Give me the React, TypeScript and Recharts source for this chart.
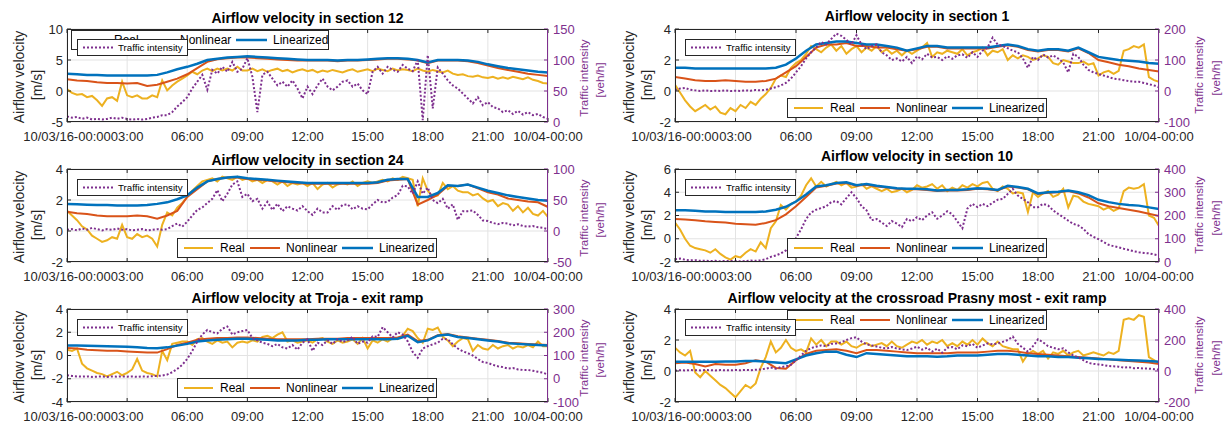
import React from 'react';
import { LineChart, Line, XAxis, YAxis, CartesianGrid } from 'recharts';

const FONT = '"Liberation Sans", Arial, Helvetica, sans-serif';
const C_REAL = '#EDB120';
const C_NON = '#D95319';
const C_LIN = '#0072BD';
const C_TRAF = '#7E2F8E';
const C_AX = '#262626';
const C_GRID = '#e3e3e3';
const TICK_FS = 13;

// sample times (hours since 10/03/16 00:00)
const fineHours = Array.from({ length: 97 }, (_, i) => i * 0.25);
const coarseHours = Array.from({ length: 49 }, (_, i) => i * 0.5);

const xTicks = [0, 3, 6, 9, 12, 15, 18, 21, 24];
const xTickLabels = ['10/03/16-00:00', '03:00', '06:00', '09:00', '12:00', '15:00', '18:00', '21:00', '10/04-00:00'];
const seriesNames = ['Real', 'Nonlinear', 'Linearized'];
const trafficName = 'Traffic intensity';

// ---------- Section 12 ----------
const s12Real = [
  0.3, -0.3, -0.6, -0.5, -1.0, -0.8, -1.5, -2.4, -1.2, -1.0, -1.6, 1.5,
  -0.7, -1.0, -0.7, -1.2, -1.2, -0.7, -1.0, 1.7, 0.1, 0.9, 1.5, 2.0,
  2.5, 3.1, 2.7, 3.3, 3.6, 3.2, 3.6, 3.3, 3.6, 3.3, 3.9, 3.3,
  3.3, 3.6, 3.2, 3.5, 3.1, 3.4, 3.6, 3.2, 3.4, 3.0, 3.3, 3.5,
  3.2, 3.4, 3.0, 3.3, 3.1, 3.4, 3.2, 3.0, 3.3, 3.5, 3.1, 3.3,
  3.5, 3.2, 3.6, 3.4, 3.2, 3.6, 3.3, 3.5, 3.4, 3.2, 3.6, 3.3,
  3.1, 3.4, 3.2, 3.0, 3.3, 2.8, 2.6, 2.7, 2.4, 2.3, 2.5, 2.2,
  2.1, 2.3, 2.0, 2.2, 2.0, 2.3, 2.1, 1.9, 2.2, 1.8, 1.6, 1.3,
  1.2,
];
const s12Non = [
  1.9, 1.7, 1.6, 1.4, 1.3, 1.3, 1.2, 1.3, 0.8, 1.0, 1.5, 2.0, 2.7, 3.7, 4.7, 5.1, 5.3, 5.4, 5.4, 5.3,
  5.2, 5.1, 5.0, 4.9, 4.9, 4.9, 4.9, 4.8, 4.9, 4.9, 5.0, 5.1, 5.2, 5.2, 5.1, 4.9, 4.5, 4.9, 4.9, 4.9,
  4.8, 4.5, 4.1, 3.7, 3.4, 3.1, 2.8, 2.6, 2.4,
];
const s12Lin = [
  2.8, 2.7, 2.6, 2.6, 2.5, 2.5, 2.5, 2.5, 2.5, 2.6, 3.0, 3.5, 3.9, 4.4, 5.0, 5.2, 5.4, 5.5, 5.6, 5.5,
  5.4, 5.3, 5.2, 5.1, 5.0, 5.0, 5.0, 4.9, 5.0, 5.0, 5.1, 5.2, 5.3, 5.3, 5.2, 5.0, 4.6, 5.0, 5.0, 5.0,
  4.9, 4.7, 4.3, 4.0, 3.7, 3.5, 3.3, 3.1, 3.0,
];
const s12Traffic = [
  9, 7, 8, 5, 7, 4, 5, 4, 5, 7, 5, 7,
  5, 4, 5, 4, 5, 7, 8, 11, 11, 16, 25, 32,
  40, 54, 65, 76, 52, 84, 78, 89, 81, 97, 81, 86,
  103, 73, 16, 76, 81, 70, 59, 65, 57, 67, 54, 38,
  57, 45, 59, 70, 57, 51, 57, 65, 67, 57, 62, 51,
  45, 81, 89, 78, 89, 84, 81, 92, 86, 82, 100, 3,
  108, 22, 88, 78, 67, 59, 54, 46, 38, 30, 40, 27,
  32, 24, 22, 16, 19, 13, 18, 12, 16, 11, 13, 8,
  5,
];

// ---------- Section 1 ----------
const s1Real = [
  0.4, -0.1, -0.6, -1.0, -1.3, -1.1, -0.9, -1.2, -1.0, -1.4, -1.5, -1.1,
  -1.3, -0.9, -1.1, -0.7, -0.9, -0.5, -0.2, 0.2, 0.8, 1.0, 0.9, 1.5,
  1.8, 2.0, 2.4, 2.9, 2.7, 2.5, 2.8, 3.0, 2.6, 2.9, 2.4, 2.7,
  2.9, 2.5, 2.8, 2.6, 2.9, 2.5, 2.7, 2.4, 2.6, 2.3, 2.6, 2.4,
  2.6, 2.8, 3.1, 2.2, 2.5, 2.4, 2.6, 2.5, 2.4, 2.7, 2.3, 2.5,
  2.6, 2.8, 2.3, 2.6, 2.5, 2.7, 2.0, 2.3, 2.1, 2.3, 2.2, 2.0,
  2.1, 2.3, 2.2, 1.8, 1.7, 2.0, 1.9, 1.8, 1.8, 1.9, 1.7, 1.8,
  1.0, 1.2, 1.3, 1.1, 1.3, 2.6, 2.7, 2.9, 2.8, 3.0, 0.9, 0.7,
  0.6,
];
const s1Non = [
  0.9, 0.8, 0.7, 0.65, 0.65, 0.7, 0.65, 0.6, 0.6, 0.65, 0.8, 1.2, 1.6, 2.2, 2.8, 3.0, 3.0, 3.1, 2.9, 2.9,
  2.8, 2.8, 2.7, 2.6, 2.7, 2.85, 2.85, 2.75, 2.75, 2.75, 2.75, 2.75, 2.85, 2.95, 2.85, 2.65, 2.55, 2.65, 2.65, 2.55,
  2.75, 2.45, 2.0, 1.85, 1.7, 1.6, 1.45, 1.35, 1.25,
];
const s1Lin = [
  1.5, 1.5, 1.45, 1.45, 1.45, 1.45, 1.45, 1.45, 1.45, 1.45, 1.5, 1.7, 2.1, 2.6, 3.0, 3.1, 3.2, 3.2, 3.1, 3.0,
  3.0, 2.9, 2.8, 2.6, 2.75, 2.9, 2.9, 2.8, 2.8, 2.8, 2.8, 2.8, 2.9, 3.0, 2.9, 2.7, 2.6, 2.7, 2.7, 2.6,
  2.8, 2.5, 2.2, 2.1, 2.0, 1.95, 1.9, 1.8, 1.75,
];
const s1Traffic = [
  3, 8, 10, 4, 2, 0, 2, 0, 1, 0, 2, 0,
  1, 0, 2, 1, 3, 2, 4, 8, 12, 18, 26, 40,
  60, 80, 105, 125, 140, 158, 150, 168, 185, 178, 165, 150,
  180, 150, 135, 145, 150, 125, 115, 100, 105, 95, 110, 90,
  112, 102, 120, 108, 110, 100, 112, 104, 115, 118, 107, 125,
  110, 130, 140, 172, 150, 145, 138, 130, 125, 105, 75, 110,
  100, 118, 108, 115, 105, 92, 60, 120, 110, 85, 68, 60,
  55, 50, 45, 40, 38, 35, 32, 30, 30, 26, 22, 18,
  12,
];

// ---------- Section 24 ----------
const s24Real = [
  1.3, 1.0, 0.7, 0.3, 0.1, -0.3, -0.5, -0.7, -0.6, -0.4, -0.5, 0.4,
  -0.4, -0.5, -0.2, -0.4, -0.3, -0.5, -1.0, 0.4, 1.2, 1.0, 1.5, 1.8,
  2.2, 2.6, 2.9, 3.2, 3.3, 3.4, 3.2, 3.5, 3.4, 3.3, 3.5, 3.3,
  3.4, 3.2, 3.3, 3.1, 3.3, 3.2, 3.0, 3.2, 2.9, 3.1, 3.0, 3.1,
  2.9, 3.1, 2.7, 3.0, 3.1, 2.8, 3.0, 3.1, 3.0, 3.2, 2.9, 3.1,
  3.2, 3.1, 3.2, 3.3, 3.2, 3.4, 3.3, 3.5, 3.4, 3.3, 1.6, 3.4,
  2.6, 2.2, 2.3, 3.1, 2.7, 2.9, 2.6, 2.5, 2.5, 2.3, 2.4, 2.1,
  1.9, 2.0, 1.6, 1.8, 1.7, 1.3, 1.6, 1.2, 1.5, 1.1, 1.0, 1.3,
  0.9,
];
const s24Non = [
  1.25, 1.15, 1.1, 1.0, 0.95, 0.95, 0.95, 1.0, 0.95, 0.8, 1.0, 1.3, 2.2, 2.7, 3.2, 3.35, 3.45, 3.45, 3.35, 3.3,
  3.25, 3.2, 3.15, 3.1, 3.05, 3.05, 3.05, 3.05, 3.05, 3.05, 3.05, 3.1, 3.25, 3.3, 3.35, 1.7, 2.0, 2.35, 2.9, 2.9,
  3.0, 2.75, 2.5, 2.35, 2.1, 2.0, 1.9, 1.85, 1.55,
];
const s24Lin = [
  1.75, 1.72, 1.7, 1.68, 1.67, 1.65, 1.65, 1.65, 1.67, 1.75, 1.85, 2.05, 2.3, 2.8, 3.2, 3.35, 3.45, 3.5, 3.4, 3.35,
  3.3, 3.25, 3.2, 3.15, 3.1, 3.1, 3.1, 3.1, 3.1, 3.1, 3.1, 3.15, 3.3, 3.35, 3.35, 2.2, 2.2, 2.45, 2.95, 2.9,
  3.0, 2.8, 2.6, 2.45, 2.3, 2.2, 2.1, 2.0, 1.95,
];
const s24Traffic = [
  2, 3, 1, 4, 2, 5, 3, 1, 3, 2, 4, 2,
  3, 1, 2, 3, 1, 2, 3, 2, 3, 8, 12, 7,
  15, 25, 34, 38, 45, 52, 66, 48, 60, 75, 80, 55,
  60, 48, 52, 36, 47, 34, 44, 32, 40, 36, 33, 40,
  32, 26, 36, 30, 30, 40, 34, 42, 43, 35, 40, 36,
  35, 43, 50, 46, 47, 54, 58, 73, 72, 60, 80, 60,
  70, 50, 45, 52, 36, 43, 18, 32, 32, 33, 26, 17,
  16, 13, 11, 13, 12, 9, 11, 8, 7, 8, 6, 5,
  3,
];

// ---------- Section 10 ----------
const s10Real = [
  1.4, 0.8, 0.0, -0.6, -0.8, -0.9, -1.0, -1.2, -0.9, -1.3, -1.6, -1.8,
  -1.5, -1.6, -1.2, -0.9, -1.1, -0.3, -0.8, 0.9, 1.5, 2.9, 2.5, 3.0,
  3.2, 3.7, 4.6, 5.2, 4.5, 4.9, 4.5, 4.7, 4.9, 4.6, 4.8, 4.4,
  4.5, 4.7, 4.3, 4.5, 4.3, 4.1, 4.3, 4.0, 4.1, 4.3, 4.0, 4.2,
  4.6, 4.4, 4.5, 4.7, 4.3, 4.6, 4.1, 4.4, 4.2, 4.6, 4.4, 4.7,
  4.5, 4.8, 4.9, 4.3, 4.1, 4.5, 4.3, 3.9, 4.0, 3.9, 2.3, 4.0,
  3.6, 3.9, 4.1, 3.6, 3.8, 4.3, 2.7, 3.7, 3.6, 3.2, 3.0, 2.9,
  2.8, 2.5, 2.7, 2.4, 2.6, 4.1, 4.4, 4.3, 4.4, 4.7, 2.0, 1.8,
  1.1,
];
const s10Non = [
  1.7, 1.65, 1.6, 1.5, 1.45, 1.4, 1.3, 1.25, 1.2, 1.35, 1.6, 2.1, 2.8, 3.6, 4.4, 4.55, 4.75, 4.8, 4.55, 4.65,
  4.5, 4.4, 4.3, 4.25, 4.25, 4.2, 4.1, 4.15, 4.15, 4.2, 4.3, 4.25, 4.15, 4.5, 4.4, 4.25, 3.85, 3.95, 4.0, 4.1,
  3.9, 3.55, 3.05, 2.8, 2.65, 2.5, 2.35, 2.15, 1.95,
];
const s10Lin = [
  2.45, 2.45, 2.4, 2.35, 2.35, 2.3, 2.3, 2.3, 2.3, 2.35, 2.5, 2.75, 3.2, 3.8, 4.5, 4.6, 4.8, 4.85, 4.6, 4.7,
  4.55, 4.45, 4.35, 4.3, 4.3, 4.25, 4.15, 4.2, 4.2, 4.25, 4.35, 4.3, 4.2, 4.55, 4.45, 4.3, 3.9, 4.0, 4.05, 4.15,
  4.0, 3.75, 3.35, 3.15, 3.0, 2.9, 2.85, 2.7, 2.55,
];
const s10Traffic = [
  12, 15, 10, 7, 8, 5, 6, 4, 5, 3, 5, 4,
  5, 3, 4, 6, 5, 7, 12, 22, 28, 37, 50, 75,
  103, 140, 185, 213, 225, 232, 240, 258, 262, 248, 275, 300,
  275, 240, 222, 180, 185, 170, 155, 176, 165, 150, 185, 175,
  193, 180, 200, 214, 186, 200, 218, 205, 175, 145, 230, 250,
  236, 250, 240, 255, 268, 271, 293, 314, 286, 271, 257, 236,
  236, 250, 243, 222, 207, 193, 178, 164, 157, 143, 120, 108,
  98, 86, 74, 68, 63, 57, 52, 46, 42, 39, 37, 33,
  28,
];

// ---------- Troja - exit ramp ----------
const trojaReal = [
  0.5, 0.4, 0.6, -0.7, -1.1, -1.3, -1.5, -1.6, -1.8, -1.6, -1.4, -1.7,
  -1.5, -1.2, -0.3, -1.3, -1.5, -1.6, -1.8, 0.4, -0.4, 1.0, 1.1, 1.2,
  1.2, 0.9, 1.4, 1.5, 1.2, 1.0, 1.3, 1.1, 1.2, 0.7, 1.1, 1.2,
  1.1, 1.3, 1.2, 1.6, 1.7, 1.5, 1.8, 2.0, 1.2, 1.3, 1.1, 1.2,
  1.3, 1.1, 1.4, 1.5, 1.2, 1.0, 1.3, 1.1, 1.2, 1.4, 1.0, 1.5,
  0.6, 1.3, 1.1, 1.4, 1.2, 1.5, 1.4, 1.7, 2.3, 2.1, 1.5, 1.1,
  2.3, 2.2, 2.4, 1.6, 1.3, 0.8, 1.2, 1.5, 1.4, 0.4, 0.9, 0.6,
  0.5, 0.9, 0.6, 0.8, 0.9, 0.6, 0.8, 0.7, 0.9, 0.7, 1.2, 0.8,
  0.8,
];
const trojaNon = [
  0.65, 0.6, 0.5, 0.45, 0.4, 0.4, 0.35, 0.3, 0.25, 0.25, 0.55, 0.9, 1.1, 1.35, 1.45, 1.5, 1.5, 1.55, 1.55, 1.5,
  1.45, 1.4, 1.4, 1.4, 1.4, 1.45, 1.45, 1.45, 1.5, 1.5, 1.5, 1.5, 1.5, 1.55, 1.8, 1.25, 1.35, 1.75, 1.85, 1.65,
  1.55, 1.45, 1.35, 1.25, 1.1, 1.05, 1.0, 0.95, 0.9,
];
const trojaLin = [
  0.85, 0.85, 0.83, 0.82, 0.8, 0.78, 0.75, 0.7, 0.65, 0.62, 0.7, 0.85, 1.0, 1.2, 1.3, 1.35, 1.4, 1.45, 1.45, 1.4,
  1.35, 1.3, 1.3, 1.3, 1.35, 1.35, 1.4, 1.4, 1.4, 1.4, 1.4, 1.4, 1.4, 1.45, 1.7, 1.15, 1.3, 1.7, 1.8, 1.6,
  1.5, 1.4, 1.3, 1.2, 1.05, 1.0, 0.95, 0.9, 0.87,
];
const trojaTraffic = [
  15, 12, 10, 9, 10, 8, 9, 10, 8, 10, 9, 10,
  9, 10, 8, 10, 9, 11, 12, 14, 18, 28, 42, 60,
  85, 120, 160, 190, 210, 200, 195, 215, 225, 190, 200, 205,
  210, 175, 165, 155, 150, 140, 150, 135, 130, 145, 125, 155,
  170, 120, 155, 145, 165, 150, 170, 158, 165, 180, 150, 160,
  155, 183, 180, 222, 200, 178, 200, 190, 161, 115, 90, 130,
  140, 148, 155, 172, 170, 148, 130, 118, 110, 100, 85, 72,
  68, 60, 54, 50, 44, 46, 40, 38, 38, 34, 30, 26,
  18,
];

// ---------- Crossroad Prasny most - exit ramp ----------
const prasnyReal = [
  1.5, 1.2, 1.0, 1.3, -0.1, -0.4, 0.0, -0.3, -0.6, -0.9, -1.1, -1.4,
  -1.7, -1.3, -0.9, -1.1, -0.8, 0.2, 0.9, 1.9, 1.2, 1.5, 2.0, 1.5,
  1.3, 1.4, 1.2, 2.1, 1.7, 2.0, 1.6, 1.9, 1.9, 1.7, 1.9, 1.6,
  1.5, 1.7, 1.8, 1.6, 1.7, 1.8, 1.6, 1.9, 1.6, 1.5, 1.7, 1.9,
  1.8, 2.0, 1.7, 1.9, 1.8, 2.0, 1.6, 1.8, 1.6, 1.9, 1.7, 2.0,
  1.7, 2.1, 1.8, 1.6, 1.9, 1.6, 1.5, 1.4, 1.4, 0.6, 1.1, 1.3,
  1.1, 1.3, 0.8, 1.2, 1.1, 1.3, 1.0, 1.2, 1.3, 1.0, 1.1, 1.2,
  1.1, 1.0, 1.2, 1.1, 1.3, 3.3, 3.4, 3.3, 3.6, 3.5, 0.9, 0.7,
  0.5,
];
const prasnyNon = [
  0.5, 0.55, 0.45, 0.3, 0.45, 0.4, 0.4, 0.5, 0.7, 0.6, 0.2, 0.15, 0.7, 1.1, 1.3, 1.35, 1.4, 1.3, 1.15, 1.35,
  1.35, 1.3, 1.25, 1.2, 1.15, 1.15, 1.15, 1.15, 1.2, 1.2, 1.2, 1.25, 1.3, 1.3, 1.25, 1.15, 1.1, 1.05, 1.0, 0.95,
  0.9, 0.85, 0.8, 0.75, 0.7, 0.65, 0.6, 0.55, 0.45,
];
const prasnyLin = [
  0.6, 0.6, 0.6, 0.6, 0.6, 0.62, 0.62, 0.65, 0.65, 0.6, 0.55, 0.5, 0.75, 1.0, 1.15, 1.25, 1.25, 1.05, 0.9, 1.15,
  1.1, 1.05, 1.0, 0.95, 0.95, 0.95, 0.92, 0.95, 1.0, 1.0, 1.0, 1.05, 1.1, 1.1, 1.05, 1.0, 0.95, 0.95, 0.9, 0.9,
  0.85, 0.82, 0.78, 0.75, 0.72, 0.7, 0.68, 0.65, 0.6,
];
const prasnyTraffic = [
  3, 5, 4, 6, 5, 4, 6, 5, 4, 6, 5, 4,
  6, 5, 7, 5, 8, 10, 15, 22, 15, 25, 30, 40,
  70, 100, 130, 148, 157, 165, 160, 175, 178, 185, 200, 212,
  218, 190, 172, 165, 158, 150, 145, 155, 145, 140, 135, 145,
  157, 138, 150, 125, 145, 118, 150, 155, 140, 165, 160, 175,
  150, 165, 178, 172, 178, 188, 200, 222, 175, 150, 125, 160,
  205, 185, 160, 150, 140, 146, 120, 100, 88, 70, 52, 46,
  42, 38, 32, 30, 28, 22, 25, 18, 20, 16, 15, 12,
  9,
];

type PanelCfg = {
  title: string;
  col: number;
  row: number;
  titleY: number;
  leftDomain: [number, number];
  leftTicks: number[];
  rightDomain: [number, number];
  rightTicks: number[];
  legend: 'top' | 'bottom';
  real: number[];
  non: number[];
  lin: number[];
  traffic: number[];
};

const panels: PanelCfg[] = [
  { title: 'Airflow velocity in section 12', col: 0, row: 0, titleY: 18, leftDomain: [-5, 10], leftTicks: [-5, 0, 5, 10], rightDomain: [0, 150], rightTicks: [0, 50, 100, 150], legend: 'top', real: s12Real, non: s12Non, lin: s12Lin, traffic: s12Traffic },
  { title: 'Airflow velocity in section 1', col: 1, row: 0, titleY: 16, leftDomain: [-2, 4], leftTicks: [-2, 0, 2, 4], rightDomain: [-100, 200], rightTicks: [-100, 0, 100, 200], legend: 'bottom', real: s1Real, non: s1Non, lin: s1Lin, traffic: s1Traffic },
  { title: 'Airflow velocity in section 24', col: 0, row: 1, titleY: 160, leftDomain: [-2, 4], leftTicks: [-2, 0, 2, 4], rightDomain: [-50, 100], rightTicks: [-50, 0, 50, 100], legend: 'bottom', real: s24Real, non: s24Non, lin: s24Lin, traffic: s24Traffic },
  { title: 'Airflow velocity in section 10', col: 1, row: 1, titleY: 156, leftDomain: [-2, 6], leftTicks: [-2, 0, 2, 4, 6], rightDomain: [0, 400], rightTicks: [0, 100, 200, 300, 400], legend: 'bottom', real: s10Real, non: s10Non, lin: s10Lin, traffic: s10Traffic },
  { title: 'Airflow velocity at Troja - exit ramp', col: 0, row: 2, titleY: 298, leftDomain: [-4, 4], leftTicks: [-4, -2, 0, 2, 4], rightDomain: [-100, 300], rightTicks: [-100, 0, 100, 200, 300], legend: 'bottom', real: trojaReal, non: trojaNon, lin: trojaLin, traffic: trojaTraffic },
  { title: 'Airflow velocity at the crossroad Prasny most - exit ramp', col: 1, row: 2, titleY: 298, leftDomain: [-2, 4], leftTicks: [-2, 0, 2, 4], rightDomain: [-200, 400], rightTicks: [-200, 0, 200, 400], legend: 'top', real: prasnyReal, non: prasnyNon, lin: prasnyLin, traffic: prasnyTraffic },
];

const toPoints = (hours: number[], vals: number[]) => hours.map((t, i) => ({ t, v: vals[i] }));

const CHART_H = 142;
const PLOT_T = 29;
const PLOT_B = 122;

function RotLabel({ x, y, text, size, color }: { x: number; y: number; text: string; size: number; color: string }) {
  return (
    <div
      style={{
        position: 'absolute',
        left: x,
        top: y,
        transform: 'translate(-50%, -50%) rotate(-90deg)',
        whiteSpace: 'nowrap',
        fontSize: size,
        color,
        fontFamily: FONT,
        lineHeight: 1,
      }}
    >
      {text}
    </div>
  );
}

function MainLegend({ left, top, width }: { left: number; top: number; width: number }) {
  const items = [
    { name: seriesNames[0], color: C_REAL, x1: 7, x2: 36, tx: 43, w: 2 },
    { name: seriesNames[1], color: C_NON, x1: 73, x2: 103, tx: 109, w: 2 },
    { name: seriesNames[2], color: C_LIN, x1: 165, x2: 196, tx: 202, w: 2.5 },
  ];
  return (
    <div style={{ position: 'absolute', left, top, width, height: 20, boxSizing: 'border-box', border: `1px solid ${C_AX}`, background: '#fff' }}>
      <svg width={width} height={20} style={{ position: 'absolute', left: -1, top: -1 }}>
        {items.map((it) => (
          <g key={it.name}>
            <line x1={it.x1} x2={it.x2} y1={10} y2={10} stroke={it.color} strokeWidth={it.w} />
            <text x={it.tx} y={14.2} fontSize={12} fontFamily={FONT} fill="#000">
              {it.name}
            </text>
          </g>
        ))}
      </svg>
    </div>
  );
}

function TrafficLegend({ left, top }: { left: number; top: number }) {
  return (
    <div style={{ position: 'absolute', left, top, width: 111, height: 17, boxSizing: 'border-box', border: `1px solid ${C_AX}`, background: '#fff' }}>
      <svg width={111} height={17} style={{ position: 'absolute', left: -1, top: -1 }}>
        <line x1={6} x2={36} y1={8.5} y2={8.5} stroke={C_TRAF} strokeWidth={2} strokeDasharray="2 2" />
        <text x={41} y={12} fontSize={9.7} fontFamily={FONT} fill="#000">
          {trafficName}
        </text>
      </svg>
    </div>
  );
}

function Panel({ cfg }: { cfg: PanelCfg }) {
  const chartLeft = cfg.col === 0 ? 0 : 610;
  const chartWidth = cfg.col === 0 ? 610 : 619;
  const yLeftW = cfg.col === 0 ? 67 : 65;
  const yRightW = cfg.col === 0 ? 62 : 70;
  const rowTop = cfg.row * 140;
  const plotL = yLeftW;
  const plotR = chartWidth - yRightW;

  const pageL = chartLeft + plotL;
  const pageR = chartLeft + plotR;
  const pageT = rowTop + PLOT_T;
  const plotW = pageR - pageL;

  const renderX = (props: any) => {
    const { x, payload } = props;
    const idx = xTicks.indexOf(payload.value);
    return (
      <g>
        <line x1={x} x2={x} y1={PLOT_B} y2={PLOT_B - 4} stroke={C_AX} strokeWidth={1} />
        <line x1={x} x2={x} y1={PLOT_T} y2={PLOT_T + 4} stroke={C_AX} strokeWidth={1} />
        <text x={x} y={140.5} textAnchor="middle" fontSize={TICK_FS} fontFamily={FONT} fill={C_AX}>
          {idx >= 0 ? xTickLabels[idx] : ''}
        </text>
      </g>
    );
  };
  const renderYL = (props: any) => {
    const { y, payload } = props;
    return (
      <g>
        <line x1={plotL} x2={plotL + 4} y1={y} y2={y} stroke={C_AX} strokeWidth={1} />
        <text x={plotL - 4} y={y} dy="0.36em" textAnchor="end" fontSize={TICK_FS} fontFamily={FONT} fill={C_AX}>
          {payload.value}
        </text>
      </g>
    );
  };
  const renderYR = (props: any) => {
    const { y, payload } = props;
    return (
      <g>
        <line x1={plotR} x2={plotR - 4} y1={y} y2={y} stroke={C_TRAF} strokeWidth={1} />
        <text x={plotR + 5} y={y} dy="0.36em" textAnchor="start" fontSize={TICK_FS} fontFamily={FONT} fill={C_TRAF}>
          {payload.value}
        </text>
      </g>
    );
  };

  const legendLeft = cfg.legend === 'top' ? (cfg.col === 0 ? pageL + 4 : pageL + 112) : pageL + (cfg.col === 0 ? 110 : 112);
  const legendTop = cfg.legend === 'top' ? pageT + 1 : pageT + 69;
  const legendWidth = cfg.legend === 'top' && cfg.col === 0 ? 258 : 260;

  const leftLabelX = cfg.col === 0 ? [18.5, 37] : [629, 647];
  const rightLabelX = cfg.col === 0 ? [584, 600] : [1199, 1216];
  const rightLabelDY = cfg.col === 0 ? [48.5, 50.5] : [46, 49];

  return (
    <>
      <div style={{ position: 'absolute', left: chartLeft, top: rowTop }}>
        <LineChart width={chartWidth} height={CHART_H} margin={{ top: PLOT_T, right: 0, bottom: 0, left: 0 }}>
          <CartesianGrid stroke={C_GRID} strokeWidth={1} />
          <XAxis
            type="number"
            dataKey="t"
            domain={[0, 24]}
            ticks={xTicks}
            interval={0}
            height={CHART_H - PLOT_B}
            axisLine={false}
            tickLine={false}
            tick={renderX}
            allowDataOverflow
          />
          <YAxis
            type="number"
            domain={cfg.leftDomain}
            ticks={cfg.leftTicks}
            interval={0}
            width={yLeftW}
            axisLine={false}
            tickLine={false}
            tick={renderYL}
            allowDataOverflow
          />
          <YAxis
            yAxisId="r"
            type="number"
            orientation="right"
            domain={cfg.rightDomain}
            ticks={cfg.rightTicks}
            interval={0}
            width={yRightW}
            axisLine={false}
            tickLine={false}
            tick={renderYR}
            allowDataOverflow
          />
          <Line data={toPoints(fineHours, cfg.real)} dataKey="v" name={seriesNames[0]} stroke={C_REAL} strokeWidth={2} dot={false} activeDot={false} isAnimationActive={false} />
          <Line data={toPoints(coarseHours, cfg.non)} dataKey="v" name={seriesNames[1]} stroke={C_NON} strokeWidth={2} dot={false} activeDot={false} isAnimationActive={false} />
          <Line data={toPoints(coarseHours, cfg.lin)} dataKey="v" name={seriesNames[2]} stroke={C_LIN} strokeWidth={2.5} dot={false} activeDot={false} isAnimationActive={false} />
          <Line yAxisId="r" data={toPoints(fineHours, cfg.traffic)} dataKey="v" name={trafficName} stroke={C_TRAF} strokeWidth={2} strokeDasharray="2 2" dot={false} activeDot={false} isAnimationActive={false} />
        </LineChart>
      </div>
      <div
        style={{
          position: 'absolute',
          left: pageL,
          top: pageT,
          width: plotW,
          height: PLOT_B - PLOT_T,
          boxSizing: 'border-box',
          borderTop: `1px solid ${C_AX}`,
          borderLeft: `1px solid ${C_AX}`,
          borderBottom: `1px solid ${C_AX}`,
          borderRight: `1px solid ${C_TRAF}`,
          pointerEvents: 'none',
        }}
      />
      <div
        style={{
          position: 'absolute',
          left: (pageL + pageR) / 2,
          top: cfg.titleY,
          transform: 'translate(-50%, -50%)',
          whiteSpace: 'nowrap',
          fontWeight: 'bold',
          fontSize: 14,
          fontFamily: FONT,
          color: '#000',
          lineHeight: 1,
        }}
      >
        {cfg.title}
      </div>
      <RotLabel x={leftLabelX[0]} y={pageT + 48} text="Airflow velocity" size={14} color={C_AX} />
      <RotLabel x={leftLabelX[1]} y={pageT + 56} text="[m/s]" size={14} color={C_AX} />
      <RotLabel x={rightLabelX[0]} y={pageT + rightLabelDY[0]} text="Traffic intensity" size={11.6} color={C_TRAF} />
      <RotLabel x={rightLabelX[1]} y={pageT + rightLabelDY[1]} text="[veh/h]" size={11.6} color={C_TRAF} />
      <MainLegend left={legendLeft} top={legendTop} width={legendWidth} />
      <TrafficLegend left={pageL + 10} top={pageT + 10} />
    </>
  );
}

export default function App() {
  return (
    <div style={{ position: 'absolute', left: 0, top: 0, width: 1229, height: 425, background: '#fff', fontFamily: FONT, overflow: 'hidden' }}>
      {panels.map((p) => (
        <Panel key={p.title} cfg={p} />
      ))}
    </div>
  );
}
